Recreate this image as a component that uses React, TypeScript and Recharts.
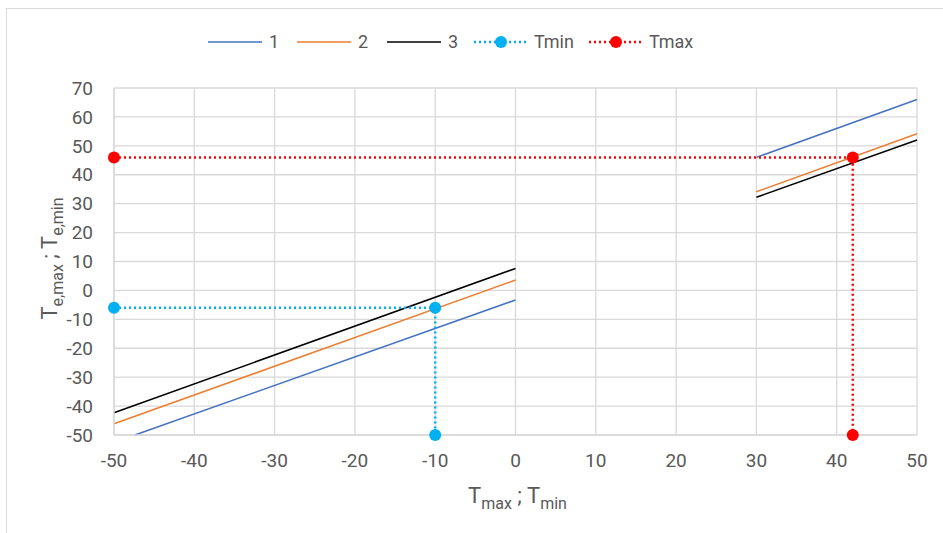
import { LineChart, Line, XAxis, YAxis, CartesianGrid } from "recharts";

// values
const xTicks = [-50, -40, -30, -20, -10, 0, 10, 20, 30, 40, 50];
const yTicks = [-50, -40, -30, -20, -10, 0, 10, 20, 30, 40, 50, 60, 70];

const line1LowX = [-47.4, 0];
const line1LowY = [-50, -3.3];
const line1HighX = [30, 50];
const line1HighY = [46, 66];

const line2LowX = [-50, 0];
const line2LowY = [-46.1, 3.6];
const line2HighX = [30, 50];
const line2HighY = [34.1, 54.2];

const line3LowX = [-50, 0];
const line3LowY = [-42.3, 7.6];
const line3HighX = [30, 50];
const line3HighY = [32.2, 52];

const tminX = [-50, -10, -10];
const tminY = [-6, -6, -50];
const tmaxX = [-50, 42, 42];
const tmaxY = [46, 46, -50];

const seriesNames = ["1", "2", "3", "Tmin", "Tmax"];

const toPoints = (xs: number[], ys: number[]) => xs.map((x, i) => ({ x, y: ys[i] }));

const BLUE = "#4472c4";
const ORANGE = "#ed7d31";
const BLACK = "#000000";
const CYAN = "#00b0f0";
const RED = "#ff0000";
const GRID = "#d9d9d9";
const TEXT = "#595959";
const FONT = "Roboto, 'Liberation Sans', sans-serif";

const legendColors = [BLUE, ORANGE, BLACK, CYAN, RED];
// left edge of each legend entry, matched to the reference
const legendLeft = [208, 297, 387, 473, 588];

const CustomLegend = () => (
  <div style={{ position: "absolute", left: 0, top: 32, width: 943, height: 20, fontFamily: FONT, fontSize: 18, color: TEXT }}>
    {seriesNames.map((name, i) => {
      const marker = i >= 3;
      const color = legendColors[i];
      return (
        <div key={name} style={{ position: "absolute", left: legendLeft[i], top: 0, display: "flex", alignItems: "center", gap: 6, height: 20 }}>
          <svg width={55} height={14}>
            {marker ? (
              <>
                <line x1={1} y1={7} x2={55} y2={7} stroke={color} strokeWidth={2.5} strokeDasharray="2 3" />
                <circle cx={28} cy={7} r={6} fill={color} />
              </>
            ) : (
              <line x1={0} y1={7} x2={54} y2={7} stroke={color} strokeWidth={1.5} />
            )}
          </svg>
          <span style={{ lineHeight: "20px" }}>{name}</span>
        </div>
      );
    })}
  </div>
);

const YLabel = ({ viewBox }: any) => {
  const cx = 57;
  const cy = viewBox.y + viewBox.height / 2 - 3;
  return (
    <text transform={`translate(${cx},${cy}) rotate(-90)`} textAnchor="middle" fill={TEXT} fontFamily={FONT} fontSize={22}>
      T<tspan fontSize={16} dy={6}>e,max</tspan>
      <tspan dy={-6}> ; T</tspan>
      <tspan fontSize={16} dy={6}>e,min</tspan>
    </text>
  );
};

const XLabel = ({ viewBox }: any) => {
  const cx = viewBox.x + viewBox.width / 2 + 2;
  return (
    <text x={cx} y={503} textAnchor="middle" fill={TEXT} fontFamily={FONT} fontSize={22}>
      T<tspan fontSize={16} dy={6}>max</tspan>
      <tspan dy={-6}> ; T</tspan>
      <tspan fontSize={16} dy={6}>min</tspan>
    </text>
  );
};

export default function App() {
  const segment = (key: string, xs: number[], ys: number[], color: string) => (
    <Line
      key={key}
      data={toPoints(xs, ys)}
      dataKey="y"
      stroke={color}
      strokeWidth={1.5}
      dot={false}
      isAnimationActive={false}
    />
  );

  return (
    <div style={{ position: "relative", width: 943, height: 533, background: "#fff" }}>
      <style>{`body{margin:0}`}</style>
      <div style={{ position: "absolute", left: 6, top: 8, right: -10, bottom: -10, borderTop: `1px solid ${GRID}`, borderLeft: `1px solid ${GRID}` }} />
      <div style={{ position: "absolute", left: 0, top: 0 }}>
        <LineChart width={943} height={533} margin={{ top: 88, right: 26, bottom: 58, left: 54 }}>
          <CartesianGrid stroke={GRID} strokeWidth={1.3} horizontalValues={yTicks} verticalValues={xTicks} />
          <XAxis
            type="number"
            dataKey="x"
            domain={[-50, 50]}
            ticks={xTicks}
            interval={0}
            tickLine={false}
            axisLine={{ stroke: GRID, strokeWidth: 1.3 }}
            tick={{ fill: TEXT, fontSize: 19, fontFamily: FONT }}
            tickMargin={13}
            height={40}
            allowDuplicatedCategory={false}
            label={<XLabel />}
          />
          <YAxis
            type="number"
            domain={[-50, 70]}
            ticks={yTicks}
            interval={0}
            tickLine={false}
            axisLine={{ stroke: GRID, strokeWidth: 1.3 }}
            tick={{ fill: TEXT, fontSize: 19, fontFamily: FONT }}
            tickMargin={15}
            width={60}
            label={<YLabel />}
          />
          {segment("l1a", line1LowX, line1LowY, BLUE)}
          {segment("l1b", line1HighX, line1HighY, BLUE)}
          {segment("l2a", line2LowX, line2LowY, ORANGE)}
          {segment("l2b", line2HighX, line2HighY, ORANGE)}
          {segment("l3a", line3LowX, line3LowY, BLACK)}
          {segment("l3b", line3HighX, line3HighY, BLACK)}
          <Line
            data={toPoints(tminX, tminY)}
            dataKey="y"
            stroke={CYAN}
            strokeWidth={2.5}
            strokeDasharray="2 3"
            dot={{ r: 6, fill: CYAN, stroke: CYAN, strokeWidth: 0 }}
            isAnimationActive={false}
          />
          <Line
            data={toPoints(tmaxX, tmaxY)}
            dataKey="y"
            stroke={RED}
            strokeWidth={2.5}
            strokeDasharray="2 3"
            dot={{ r: 6, fill: RED, stroke: RED, strokeWidth: 0 }}
            isAnimationActive={false}
          />
        </LineChart>
      </div>
      <CustomLegend />
    </div>
  );
}
